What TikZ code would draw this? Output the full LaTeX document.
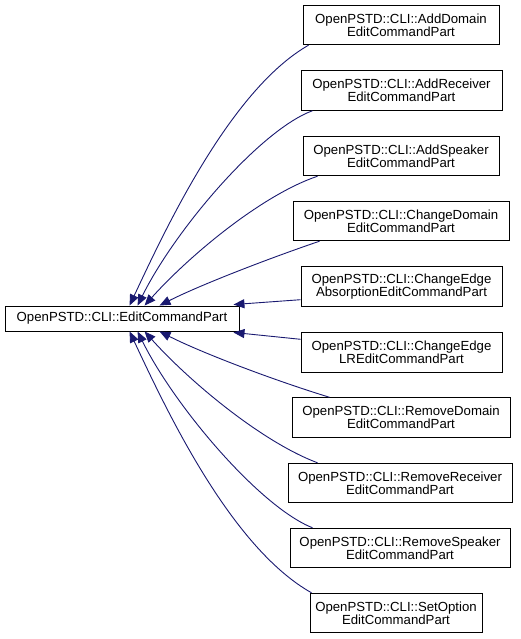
\documentclass[tikz,border=0pt]{standalone}
\usepackage{fontspec}
\setmainfont{Liberation Sans}
\usetikzlibrary{arrows.meta,calc}
\definecolor{edgeblue}{HTML}{191970}
\begin{document}
\begin{tikzpicture}[x=1pt,y=-1pt,
  cls/.style={draw=black, line width=0.9pt, fill=white, align=center, inner sep=0pt,
    font=\fontsize{13.2}{13.3}\selectfont, minimum height=39.5pt},
  inh/.style={draw=edgeblue, line width=0.9pt, -{Triangle[length=11pt,width=9pt]}}]
\useasboundingbox (0,0) rectangle (520,639);
\node[cls, minimum width=234pt, minimum height=25pt] (base) at (122,318.5) {OpenPSTD::CLI::EditCommandPart};
\node[cls, minimum width=196pt] (n1) at (401,25) {OpenPSTD::CLI::AddDomain\\EditCommandPart};
\node[cls, minimum width=201pt] (n2) at (401.5,90.5) {OpenPSTD::CLI::AddReceiver\\EditCommandPart};
\node[cls, minimum width=196pt] (n3) at (401,156) {OpenPSTD::CLI::AddSpeaker\\EditCommandPart};
\node[cls, minimum width=216pt] (n4) at (401,221) {OpenPSTD::CLI::ChangeDomain\\EditCommandPart};
\node[cls, minimum width=201pt] (n5) at (401.5,286.5) {OpenPSTD::CLI::ChangeEdge\\AbsorptionEditCommandPart};
\node[cls, minimum width=201pt] (n6) at (401.5,352.5) {OpenPSTD::CLI::ChangeEdge\\LREditCommandPart};
\node[cls, minimum width=218pt] (n7) at (401,417.5) {OpenPSTD::CLI::RemoveDomain\\EditCommandPart};
\node[cls, minimum width=224pt] (n8) at (400,483) {OpenPSTD::CLI::RemoveReceiver\\EditCommandPart};
\node[cls, minimum width=220pt] (n9) at (400,548) {OpenPSTD::CLI::RemoveSpeaker\\EditCommandPart};
\node[cls, minimum width=172pt] (n10) at (396,613) {OpenPSTD::CLI::SetOption\\EditCommandPart};
% edges above the base
\draw[inh] ($(n1.south west)+(6,0)$) .. controls (230,90) and (165,230) .. ($(base.north west)+(125,0)$);
\draw[inh] ($(n2.south west)+(12,0)$) .. controls (260,130) and (175,230) .. ($(base.north west)+(133,0)$);
\draw[inh] ($(n3.south west)+(15,0)$) .. controls (262,195) and (190,255) .. ($(base.north west)+(140,0)$);
\draw[inh] ($(n4.south west)+(27,0)$) .. controls (270,258) and (200,285) .. ($(base.north west)+(155,0)$);
\draw[inh] ($(n5.south west)+(0,-7)$) -- ($(base.north east)+(-6,-1)$);
% edges below the base
\draw[inh] ($(n6.north west)+(0,7)$) -- ($(base.south east)+(-6,1)$);
\draw[inh] ($(n7.north west)+(38,0)$) .. controls (270,379) and (200,352) .. ($(base.south west)+(155,0)$);
\draw[inh] ($(n8.north west)+(30,0)$) .. controls (262,442) and (190,382) .. ($(base.south west)+(140,0)$);
\draw[inh] ($(n9.north west)+(23,0)$) .. controls (260,507) and (175,407) .. ($(base.south west)+(133,0)$);
\draw[inh] ($(n10.north west)+(2,0)$) .. controls (230,547) and (165,407) .. ($(base.south west)+(125,0)$);
\end{tikzpicture}
\end{document}
